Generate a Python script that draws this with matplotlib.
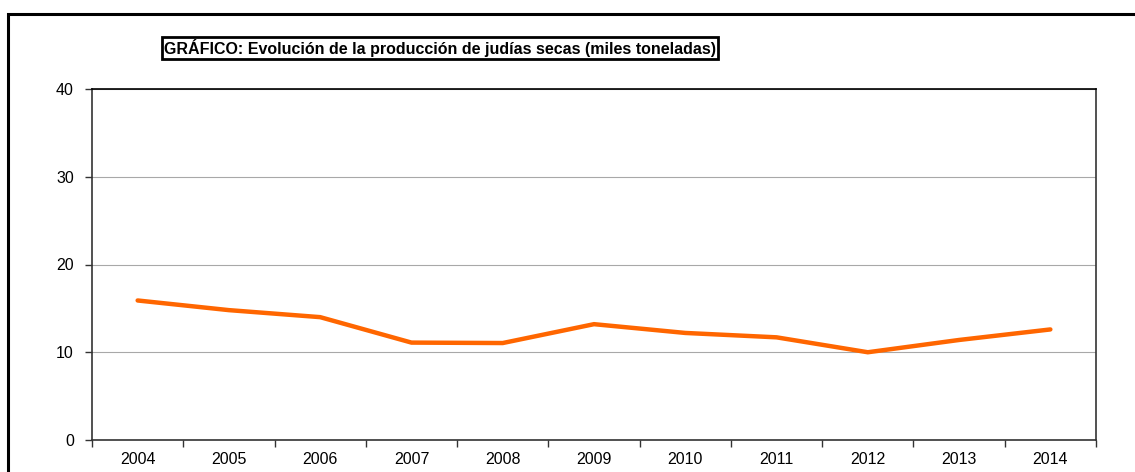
import matplotlib.pyplot as plt
import numpy as np
from matplotlib.patches import Rectangle

years = ["2004", "2005", "2006", "2007", "2008", "2009", "2010", "2011", "2012", "2013", "2014"]
produccion = [15.9, 14.8, 14.0, 11.1, 11.05, 13.2, 12.2, 11.7, 10.0, 11.4, 12.6]
y_ticks = [0, 10, 20, 30, 40]

plt.rcParams['font.family'] = ['Liberation Sans', 'DejaVu Sans']

fig = plt.figure(figsize=(11.35, 4.72), dpi=100)
ax = fig.add_axes([92/1135, 32/472, 1004/1135, 351/472])

x = np.arange(len(years))
ax.plot(x, produccion, color="#FF6600", lw=3.2, solid_capstyle="round", solid_joinstyle="miter")

ax.set_xlim(-0.5, len(years) - 0.5)
ax.set_ylim(0, 40)
ax.set_yticks(y_ticks)
ax.set_yticklabels([str(v) for v in y_ticks], fontsize=11.5)
ax.set_xticks(x)
ax.set_xticklabels(years, fontsize=11.5)
ax.set_xticks(np.arange(-0.5, len(years)), minor=True)
ax.tick_params(axis="x", which="major", length=0, pad=9)
ax.tick_params(axis="x", which="minor", length=5, width=1, color="#333333")
ax.tick_params(axis="y", length=5, width=1, color="#333333", pad=8)

ax.grid(axis="y", color="#a8a8a8", lw=0.8)
ax.set_axisbelow(True)
for s in ["left", "bottom", "right"]:
    ax.spines[s].set_color("#333333")
    ax.spines[s].set_linewidth(1.2)
ax.spines["top"].set_color("black")
ax.spines["top"].set_linewidth(1.2)

# marco exterior
fig.patches.append(Rectangle((8/1135, -0.1), 1.2, (472 - 14)/472 + 0.1,
                             transform=fig.transFigure, fill=False,
                             edgecolor="black", lw=2.2))

fig.text(440/1135, 1 - 48/472,
         "GRÁFICO: Evolución de la producción de judías secas (miles toneladas)",
         ha="center", va="center", fontsize=11.5, fontweight="bold",
         bbox=dict(boxstyle="square,pad=0.12", facecolor="white", edgecolor="black", lw=2))

fig.savefig("out.png", dpi=100)
